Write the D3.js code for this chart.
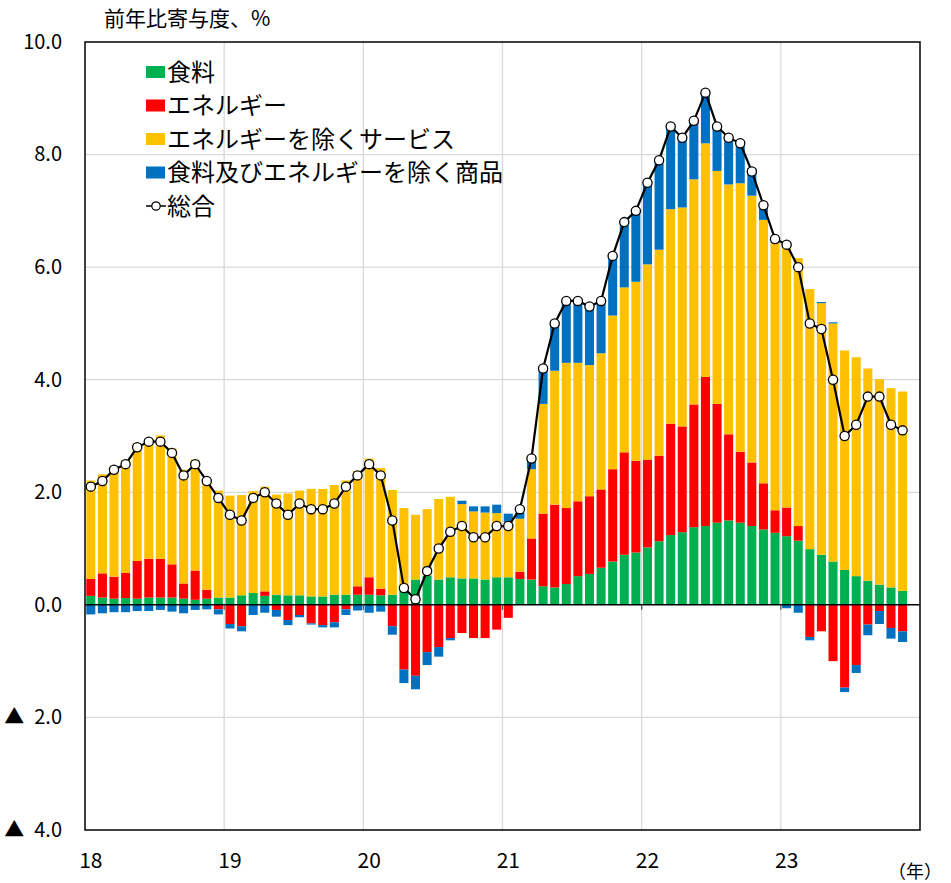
<!DOCTYPE html>
<html>
<head>
<meta charset="utf-8">
<script src="https://cdn.jsdelivr.net/npm/d3@7"></script>
<style>
  body { margin: 0; background: #fff; }
  text { font-family: "Noto Sans CJK JP", "Noto Sans", sans-serif; fill: #000; }
</style>
</head>
<body>
<svg id="chart" width="951" height="883"></svg>
<script>
// months Jan 2018 .. Nov 2023, contributions to y/y change (%pt)
var yearLabels = ["18", "19", "20", "21", "22", "23"];

var food = [
  0.16, 0.13, 0.11, 0.12, 0.11, 0.13, 0.13, 0.13, 0.11, 0.09, 0.11, 0.13,
  0.13, 0.17, 0.21, 0.16, 0.18, 0.17, 0.17, 0.15, 0.15, 0.18, 0.18, 0.18,
  0.18, 0.17, 0.18, 0.30, 0.45, 0.52, 0.45, 0.49, 0.47, 0.47, 0.45, 0.49,
  0.49, 0.46, 0.45, 0.33, 0.31, 0.37, 0.51, 0.55, 0.66, 0.77, 0.89, 0.93,
  1.02, 1.13, 1.24, 1.29, 1.38, 1.40, 1.46, 1.50, 1.46, 1.40, 1.34, 1.28,
  1.22, 1.14, 0.99, 0.89, 0.77, 0.62, 0.51, 0.43, 0.36, 0.31, 0.25
];
var energy = [
  0.30, 0.43, 0.39, 0.45, 0.67, 0.69, 0.69, 0.59, 0.27, 0.52, 0.16, -0.08,
  -0.34, -0.38, 0.00, 0.08, -0.09, -0.27, -0.18, -0.33, -0.36, -0.31, -0.08, 0.15,
  0.31, 0.12, -0.38, -1.15, -1.26, -0.84, -0.75, -0.59, -0.50, -0.59, -0.59, -0.44,
  -0.23, 0.13, 0.73, 1.29, 1.47, 1.35, 1.33, 1.38, 1.39, 1.64, 1.82, 1.63,
  1.56, 1.52, 1.98, 1.88, 2.18, 2.65, 2.11, 1.53, 1.26, 1.13, 0.82, 0.40,
  0.51, 0.26, -0.57, -0.47, -1.00, -1.47, -1.07, -0.35, -0.11, -0.41, -0.47
];
var services = [
  1.75, 1.76, 1.96, 2.00, 2.09, 2.13, 2.19, 2.06, 2.02, 1.97, 1.95, 1.90,
  1.81, 1.78, 1.81, 1.86, 1.78, 1.81, 1.86, 1.91, 1.91, 1.95, 2.03, 2.05,
  2.11, 2.14, 1.86, 1.42, 1.15, 1.18, 1.43, 1.43, 1.32, 1.19, 1.19, 1.14,
  0.98, 0.94, 1.23, 1.95, 2.38, 2.58, 2.46, 2.33, 2.42, 2.73, 2.93, 3.18,
  3.47, 3.66, 3.81, 3.89, 4.00, 4.15, 4.14, 4.44, 4.77, 4.74, 4.68, 4.75,
  4.67, 4.76, 4.62, 4.47, 4.23, 3.90, 3.89, 3.77, 3.65, 3.54, 3.54
];
var goods = [
  -0.17, -0.15, -0.13, -0.13, -0.11, -0.11, -0.09, -0.12, -0.15, -0.09, -0.08, -0.09,
  -0.08, -0.09, -0.18, -0.14, -0.12, -0.09, -0.04, -0.02, -0.04, -0.09, -0.10, -0.10,
  -0.14, -0.12, -0.15, -0.24, -0.24, -0.23, -0.17, -0.04, 0.06, 0.09, 0.11, 0.15,
  0.15, 0.11, 0.21, 0.58, 0.84, 1.10, 1.07, 0.99, 0.93, 1.09, 1.16, 1.28,
  1.42, 1.57, 1.51, 1.21, 1.03, 0.87, 0.82, 0.81, 0.73, 0.49, 0.29, 0.02,
  -0.06, -0.14, -0.06, 0.02, 0.02, -0.08, -0.14, -0.19, -0.23, -0.19, -0.19
];
var total = [
  2.1, 2.2, 2.4, 2.5, 2.8, 2.9, 2.9, 2.7, 2.3, 2.5, 2.2, 1.9,
  1.6, 1.5, 1.9, 2.0, 1.8, 1.6, 1.8, 1.7, 1.7, 1.8, 2.1, 2.3,
  2.5, 2.3, 1.5, 0.3, 0.1, 0.6, 1.0, 1.3, 1.4, 1.2, 1.2, 1.4,
  1.4, 1.7, 2.6, 4.2, 5.0, 5.4, 5.4, 5.3, 5.4, 6.2, 6.8, 7.0,
  7.5, 7.9, 8.5, 8.3, 8.6, 9.1, 8.5, 8.3, 8.2, 7.7, 7.1, 6.5,
  6.4, 6.0, 5.0, 4.9, 4.0, 3.0, 3.2, 3.7, 3.7, 3.2, 3.1
];

var seriesKeys = ["food", "energy", "services", "goods"];
var seriesNames = ["食料", "エネルギー", "エネルギーを除くサービス", "食料及びエネルギーを除く商品"];
var seriesColors = ["#00b050", "#ff0000", "#ffc000", "#0070c0"];
var yTicks = [10, 8, 6, 4, 2, 0, -2, -4];

var plotLeft = 85, plotRight = 920, plotTop = 42, plotBottom = 830;
var nSlots = 72;

var rows = food.map(function(d, i) {
  return { i: i, food: food[i], energy: energy[i], services: services[i], goods: goods[i] };
});

var svg = d3.select("#chart");

var x = d3.scaleBand()
  .domain(d3.range(nSlots))
  .range([plotLeft, plotRight])
  .paddingInner(0.22)
  .paddingOuter(0.11);
var xl = d3.scaleLinear().domain([0, nSlots]).range([plotLeft, plotRight]);
var y = d3.scaleLinear().domain([-4, 10]).range([plotBottom, plotTop]);

// y labels (negatives shown with a triangle)
svg.append("g")
  .attr("transform", "translate(" + plotLeft + ",0)")
  .call(d3.axisLeft(y).tickValues(yTicks).tickSize(0).tickPadding(23)
    .tickFormat(function(d) { return d < 0 ? "▲\u2002" + d3.format(".1f")(-d) : d3.format(".1f")(d); }))
  .call(function(g) {
    g.select(".domain").remove();
    g.selectAll("text").attr("font-size", "20px").attr("fill", "#000");
  });

svg.append("g").selectAll("line")
  .data(yTicks.filter(function(d) { return d !== 0 && d !== 10 && d !== -4; }))
  .join("line")
  .attr("x1", plotLeft).attr("x2", plotRight)
  .attr("y1", function(d) { return y(d); }).attr("y2", function(d) { return y(d); })
  .attr("stroke", "#d9d9d9").attr("stroke-width", 1.3);

// vertical year grid
var yearStarts = d3.range(12, nSlots, 12);
svg.append("g").selectAll("line")
  .data(yearStarts)
  .join("line")
  .attr("x1", function(d) { return xl(d); }).attr("x2", function(d) { return xl(d); })
  .attr("y1", plotTop).attr("y2", plotBottom)
  .attr("stroke", "#d9d9d9").attr("stroke-width", 1.3);

// stacked bars
var stack = d3.stack().keys(seriesKeys).offset(d3.stackOffsetDiverging);
var stacked = stack(rows);

svg.append("g").selectAll("g")
  .data(stacked)
  .join("g")
  .attr("fill", function(d, k) { return seriesColors[k]; })
  .selectAll("rect")
  .data(function(d) { return d; })
  .join("rect")
  .attr("x", function(d) { return x(d.data.i); })
  .attr("width", x.bandwidth())
  .attr("y", function(d) { return y(Math.max(d[0], d[1])); })
  .attr("height", function(d) { return Math.abs(y(d[0]) - y(d[1])); });

// zero line and ticks
svg.append("line")
  .attr("x1", plotLeft).attr("x2", plotRight)
  .attr("y1", y(0)).attr("y2", y(0))
  .attr("stroke", "#000").attr("stroke-width", 1.5);
svg.append("g").selectAll("line")
  .data(yearStarts)
  .join("line")
  .attr("x1", function(d) { return xl(d); }).attr("x2", function(d) { return xl(d); })
  .attr("y1", y(0)).attr("y2", y(0) + 5)
  .attr("stroke", "#555").attr("stroke-width", 1.3);

// frame
svg.append("rect")
  .attr("x", plotLeft).attr("y", plotTop)
  .attr("width", plotRight - plotLeft).attr("height", plotBottom - plotTop)
  .attr("fill", "none").attr("stroke", "#000").attr("stroke-width", 1.5);

// total line
var cx = function(i) { return x(i) + x.bandwidth() / 2; };
svg.append("path")
  .datum(total)
  .attr("fill", "none")
  .attr("stroke", "#000")
  .attr("stroke-width", 2.2)
  .attr("d", d3.line().x(function(d, i) { return cx(i); }).y(function(d) { return y(d); }));
svg.append("g").selectAll("circle")
  .data(total)
  .join("circle")
  .attr("cx", function(d, i) { return cx(i); })
  .attr("cy", function(d) { return y(d); })
  .attr("r", 4.6)
  .attr("fill", "#fff").attr("stroke", "#000").attr("stroke-width", 1.3);

// x labels
svg.append("g")
  .attr("transform", "translate(0," + plotBottom + ")")
  .call(d3.axisBottom(x).tickValues(d3.range(0, nSlots, 12)).tickSize(0).tickPadding(23)
    .tickFormat(function(d, k) { return yearLabels[k]; }))
  .call(function(g) {
    g.select(".domain").remove();
    g.selectAll("text").attr("font-size", "21px").attr("fill", "#000");
  });

svg.append("text")
  .attr("x", 942).attr("y", 878)
  .attr("text-anchor", "end")
  .attr("font-size", "18px")
  .text("（年）");

// title
svg.append("text")
  .attr("x", 104).attr("y", 26)
  .attr("font-size", "21px")
  .text("前年比寄与度、%");

// legend
var legend = svg.append("g");
seriesNames.forEach(function(name, k) {
  var ly = 72 + k * 33.5;
  legend.append("rect")
    .attr("x", 146).attr("y", ly - 6)
    .attr("width", 19).attr("height", 12)
    .attr("fill", seriesColors[k]);
  legend.append("text")
    .attr("x", 167).attr("y", ly)
    .attr("dy", "0.36em")
    .attr("font-size", "24px")
    .text(name);
});
var ly5 = 72 + 4 * 33.5;
legend.append("line")
  .attr("x1", 146).attr("x2", 166)
  .attr("y1", ly5).attr("y2", ly5)
  .attr("stroke", "#000").attr("stroke-width", 1.5);
legend.append("circle")
  .attr("cx", 156).attr("cy", ly5).attr("r", 4.2)
  .attr("fill", "#fff").attr("stroke", "#000").attr("stroke-width", 1.2);
legend.append("text")
  .attr("x", 167).attr("y", ly5)
  .attr("dy", "0.36em")
  .attr("font-size", "24px")
  .text("総合");
</script>
</body>
</html>
